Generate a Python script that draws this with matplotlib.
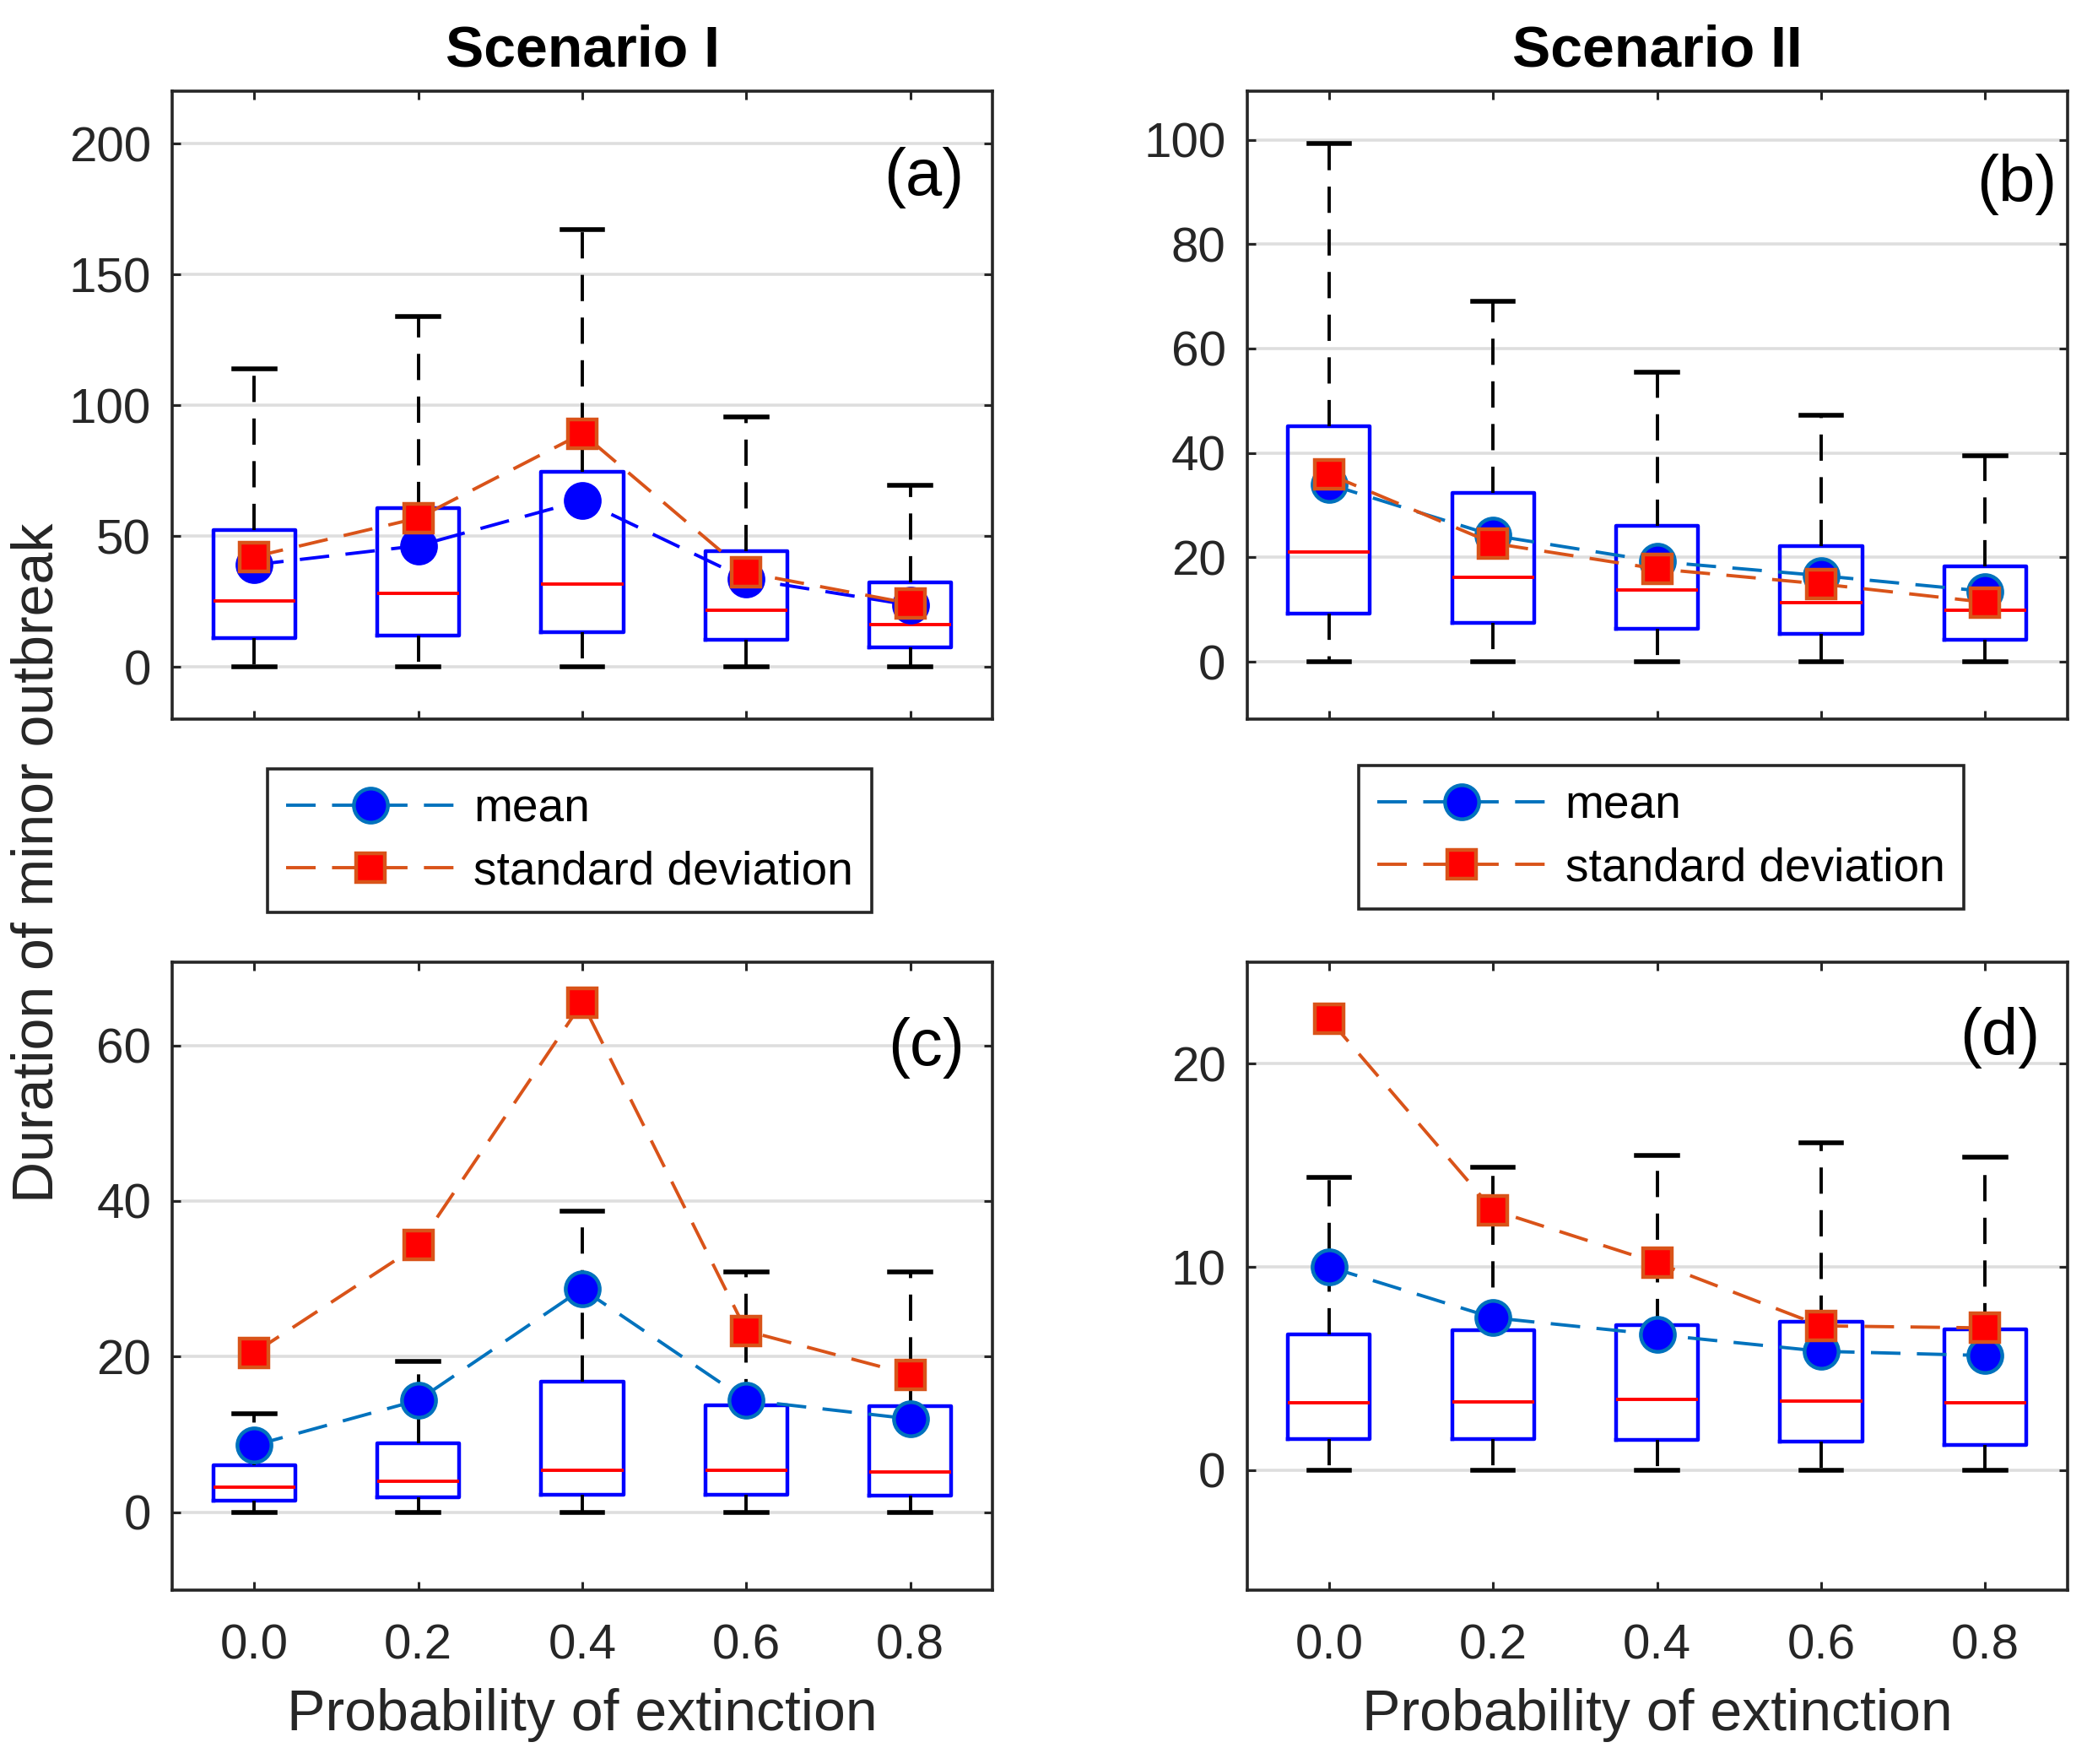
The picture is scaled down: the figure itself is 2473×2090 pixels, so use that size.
import matplotlib
matplotlib.use("Agg")
import matplotlib.pyplot as plt
from matplotlib.lines import Line2D

plt.rcParams["font.family"] = ["Liberation Sans", "DejaVu Sans"]

extinction = ["0.0", "0.2", "0.4", "0.6", "0.8"]

# (a) scenario I, top row
a_q1 = [10.9, 12.0, 13.1, 10.2, 7.4]
a_med = [25.1, 28.0, 31.6, 21.8, 16.3]
a_q3 = [52.3, 60.7, 74.7, 44.3, 32.3]
a_lo = [0, 0, 0, 0, 0]
a_hi = [114, 134, 167, 95.4, 69.4]
a_mean = [39.0, 46.3, 63.6, 33.6, 23.6]
a_sd = [42.1, 56.9, 89.2, 36.0, 24.2]

# (b) scenario II, top row
b_q1 = [9.2, 7.5, 6.3, 5.4, 4.2]
b_med = [21.1, 16.1, 13.8, 11.4, 9.9]
b_q3 = [45.1, 32.3, 26.0, 22.2, 18.3]
b_lo = [0, 0, 0, 0, 0]
b_hi = [99.3, 69.1, 55.5, 47.2, 39.5]
b_mean = [34.0, 24.2, 19.2, 16.5, 13.5]
b_sd = [35.9, 22.7, 17.8, 14.9, 11.4]

# (c) scenario I, bottom row
c_q1 = [1.5, 1.9, 2.3, 2.3, 2.1]
c_med = [3.2, 4.0, 5.4, 5.4, 5.2]
c_q3 = [6.05, 8.9, 16.8, 13.7, 13.6]
c_lo = [0, 0, 0, 0, 0]
c_hi = [12.7, 19.4, 38.7, 30.9, 30.9]
c_mean = [8.6, 14.4, 28.7, 14.4, 12.0]
c_sd = [20.5, 34.3, 65.5, 23.3, 17.7]

# (d) scenario II, bottom row
d_q1 = [1.55, 1.55, 1.5, 1.4, 1.24]
d_med = [3.3, 3.35, 3.5, 3.4, 3.3]
d_q3 = [6.7, 6.9, 7.15, 7.3, 6.93]
d_lo = [0, 0, 0, 0, 0]
d_hi = [14.4, 14.9, 15.5, 16.1, 15.4]
d_mean = [10.0, 7.5, 6.67, 5.85, 5.64]
d_sd = [22.2, 12.8, 10.2, 7.1, 7.0]

DARK = "#262626"
MEAN_LINE = "#0072BD"
SD_LINE = "#D95319"
mean_dash = (0, (9, 5))
whisker_dash = (0, (8, 5))


def draw_panel(ax, q1, med, q3, lo, hi, mean, sd, mean_color):
    pos = list(range(1, len(extinction) + 1))
    stats = [
        {"q1": a, "med": m, "q3": b, "whislo": l, "whishi": h}
        for a, m, b, l, h in zip(q1, med, q3, lo, hi)
    ]
    ax.bxp(
        stats,
        positions=pos,
        widths=0.5,
        capwidths=0.25,
        showfliers=False,
        manage_ticks=False,
        boxprops=dict(color="blue", linewidth=1.6),
        medianprops=dict(color="red", linewidth=1.4),
        whiskerprops=dict(color="black", linewidth=1.4, linestyle=whisker_dash),
        capprops=dict(color="black", linewidth=2.0),
    )
    edge = "blue" if mean_color == "blue" else MEAN_LINE
    ax.plot(pos, mean, color=mean_color, linestyle=mean_dash, linewidth=1.4,
            marker="o", markersize=14.5, markerfacecolor="#0000ff",
            markeredgecolor=edge, markeredgewidth=1.6, zorder=3)
    ax.plot(pos, sd, color=SD_LINE, linestyle=mean_dash, linewidth=1.4,
            marker="s", markersize=12.5, markerfacecolor="#ff0000",
            markeredgecolor=SD_LINE, markeredgewidth=1.6, zorder=4)
    ax.set_xlim(0.5, len(extinction) + 0.5)
    ax.set_xticks(pos)
    ax.set_xticklabels(extinction)
    ax.yaxis.grid(True, color="#dedede", linewidth=1.3)
    ax.set_axisbelow(True)
    ax.tick_params(direction="in", length=3.6, width=1.1, top=True, right=True,
                   colors=DARK, labelsize=21)
    ax.tick_params(axis="y", pad=9)
    ax.tick_params(axis="x", pad=14.3)
    for s in ax.spines.values():
        s.set_color(DARK)
        s.set_linewidth(1.3)


fig = plt.figure(figsize=(2473 / 200, 2090 / 200), dpi=200)

W = 0.393
H = 0.356
ax_a = fig.add_axes([0.0825, 0.5923, W, H])
ax_b = fig.add_axes([0.5975, 0.5923, W, H])
ax_c = fig.add_axes([0.0825, 0.0986, W, H])
ax_d = fig.add_axes([0.5975, 0.0986, W, H])

draw_panel(ax_a, a_q1, a_med, a_q3, a_lo, a_hi, a_mean, a_sd, "blue")
draw_panel(ax_b, b_q1, b_med, b_q3, b_lo, b_hi, b_mean, b_sd, MEAN_LINE)
draw_panel(ax_c, c_q1, c_med, c_q3, c_lo, c_hi, c_mean, c_sd, MEAN_LINE)
draw_panel(ax_d, d_q1, d_med, d_q3, d_lo, d_hi, d_mean, d_sd, MEAN_LINE)

ax_a.set_ylim(-20, 220)
ax_a.set_yticks([0, 50, 100, 150, 200])
ax_b.set_ylim(-11, 109.3)
ax_b.set_yticks([0, 20, 40, 60, 80, 100])
ax_c.set_ylim(-10, 70.7)
ax_c.set_yticks([0, 20, 40, 60])
ax_d.set_ylim(-5.9, 25)
ax_d.set_yticks([0, 10, 20])

for ax in (ax_a, ax_b):
    ax.tick_params(labelbottom=False)
for ax in (ax_c, ax_d):
    ax.set_xlabel("Probability of extinction", fontsize=24.5, color=DARK, labelpad=8)

ax_a.set_title("Scenario I", fontsize=24.5, fontweight="bold", pad=10.5)
ax_b.set_title("Scenario II", fontsize=24.5, fontweight="bold", pad=10.5)

panel_text = [(ax_a, "(a)", 0.966, 0.862), (ax_b, "(b)", 0.988, 0.852),
              (ax_c, "(c)", 0.966, 0.863), (ax_d, "(d)", 0.967, 0.880)]
for ax, txt, x, y in panel_text:
    ax.text(x, y, txt, transform=ax.transAxes, ha="right", va="center", fontsize=28)

fig.text(0.018, 0.511, "Duration of minor outbreak", rotation=90, ha="center",
         va="center", fontsize=24.5, color=DARK)

handles = [
    Line2D([], [], color=MEAN_LINE, linestyle=mean_dash, linewidth=1.4, marker="o",
           markersize=14.5, markerfacecolor="#0000ff", markeredgecolor=MEAN_LINE,
           markeredgewidth=1.6),
    Line2D([], [], color=SD_LINE, linestyle=mean_dash, linewidth=1.4, marker="s",
           markersize=12.5, markerfacecolor="#ff0000", markeredgecolor=SD_LINE,
           markeredgewidth=1.6),
]
for ax, x0, y0 in ((ax_a, 0.128, 0.564), (ax_b, 0.651, 0.566)):
    leg = ax.legend(handles, ["mean", "standard deviation"], loc="upper left",
                    bbox_to_anchor=(x0, y0), bbox_transform=fig.transFigure,
                    fontsize=19.8, fancybox=False, framealpha=1, edgecolor=DARK,
                    borderpad=0.4, labelspacing=0.4, handlelength=3.65,
                    handletextpad=0.4, borderaxespad=0)
    leg.get_frame().set_linewidth(1.3)

fig.savefig("out.png", dpi=200)
